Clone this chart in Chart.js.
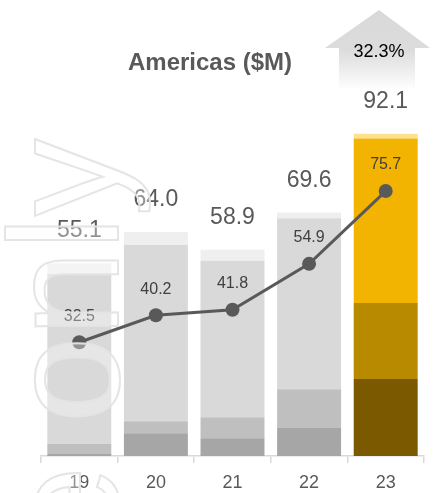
<!DOCTYPE html>
<html>
<head>
<meta charset="utf-8">
<script src="https://cdn.jsdelivr.net/npm/chart.js@4/dist/chart.umd.min.js"></script>
<style>
  html, body { margin: 0; padding: 0; background: #fff; }
  canvas { display: block; }
</style>
</head>
<body>
<canvas id="americas" width="434" height="493"></canvas>
<script>
let years = ["19", "20", "21", "22", "23"];
// revenue split, bottom to top of each stack
let baseVals = [0.6, 6.5, 5.1, 8.0, 22.0];
let midVals = [2.9, 3.4, 6.0, 11.1, 21.7];
let mainVals = [48.6, 50.4, 44.7, 48.8, 47.0];
let capVals = [3.0, 3.7, 3.1, 1.7, 1.4];
let trendVals = [32.5, 40.2, 41.8, 54.9, 75.7];
let growthText = "32.3%";

let grayColors = ["#a6a6a6", "#bfbfbf", "#d9d9d9", "#efefef"];
let goldColors = ["#7a5900", "#b88a00", "#f2b400", "#ffe08f"];
let FONT = "'Liberation Sans', Arial, sans-serif";

function segColors(level) {
  return years.map((y, i) => (i === years.length - 1 ? goldColors[level] : grayColors[level]));
}

function barSet(vals, level) {
  return {
    type: "bar",
    data: vals,
    backgroundColor: segColors(level),
    borderWidth: 0,
    stack: "rev",
    order: 1,
    barPercentage: 0.835,
    categoryPercentage: 1,
  };
}

const extras = {
  id: "extras",
  beforeDraw(chart) {
    const ctx = chart.ctx;
    ctx.save();
    ctx.fillStyle = "#fff";
    ctx.fillRect(0, 0, chart.width, chart.height);

    // title
    ctx.fillStyle = "#595959";
    ctx.font = "bold 24px " + FONT;
    ctx.textAlign = "center";
    ctx.textBaseline = "middle";
    ctx.fillText("Americas ($M)", 210, 63);

    // growth arrow
    const g = ctx.createLinearGradient(0, 10, 0, 90);
    g.addColorStop(0, "#d9d9d9");
    g.addColorStop(0.5, "#dcdcdc");
    g.addColorStop(1, "#ffffff");
    ctx.fillStyle = g;
    ctx.beginPath();
    ctx.moveTo(379, 10);
    ctx.lineTo(430, 48);
    ctx.lineTo(415, 48);
    ctx.lineTo(415, 90);
    ctx.lineTo(339, 90);
    ctx.lineTo(339, 48);
    ctx.lineTo(325, 48);
    ctx.closePath();
    ctx.fill();
    ctx.fillStyle = "#000";
    ctx.font = "18px " + FONT;
    ctx.fillText(growthText, 379, 52);
    ctx.restore();
  },
  afterDatasetsDraw(chart) {
    const ctx = chart.ctx;
    const topMeta = chart.getDatasetMeta(3);
    const lineMeta = chart.getDatasetMeta(4);
    ctx.save();
    ctx.textAlign = "center";
    ctx.textBaseline = "middle";
    years.forEach((y, i) => {
      const total = baseVals[i] + midVals[i] + mainVals[i] + capVals[i];
      const bar = topMeta.data[i];
      ctx.fillStyle = "#595959";
      ctx.font = "23px " + FONT;
      ctx.fillText(total.toFixed(1), bar.x, bar.y - 32);

      const pt = lineMeta.data[i];
      ctx.fillStyle = "#404040";
      ctx.font = "16px " + FONT;
      ctx.fillText(trendVals[i].toFixed(1), pt.x, pt.y - 26);
    });
    ctx.restore();
  },
  afterDraw(chart) {
    // outlined watermark running up the left side
    const ctx = chart.ctx;
    ctx.save();
    ctx.translate(118, 423);
    ctx.rotate(-Math.PI / 2);
    ctx.font = "155px " + FONT;
    ctx.textAlign = "left";
    ctx.textBaseline = "alphabetic";
    const text = "Internal use only";
    const shift = ctx.measureText("Internal use ").width;
    ctx.fillStyle = "rgba(255,255,255,0.35)";
    ctx.fillText(text, -shift, 0);
    ctx.lineWidth = 2;
    ctx.strokeStyle = "rgba(228,228,228,0.95)";
    ctx.strokeText(text, -shift, 0);
    ctx.restore();
  },
};

new Chart("americas", {
  data: {
    labels: years,
    datasets: [
      barSet(baseVals, 0),
      barSet(midVals, 1),
      barSet(mainVals, 2),
      barSet(capVals, 3),
      {
        type: "line",
        data: trendVals,
        yAxisID: "yLine",
        borderColor: "#595959",
        borderWidth: 3,
        pointRadius: 7,
        pointBackgroundColor: "#595959",
        pointBorderWidth: 0,
        tension: 0,
        order: 0,
      },
    ],
  },
  options: {
    responsive: false,
    animation: false,
    devicePixelRatio: 1,
    layout: { padding: { left: 41, right: 10, top: 106, bottom: 0 } },
    plugins: {
      legend: { display: false },
      title: { display: false },
      tooltip: { enabled: false },
    },
    scales: {
      x: {
        stacked: true,
        afterFit(scale) {
          scale.height = 37;
        },
        grid: {
          offset: true,
          drawOnChartArea: false,
          tickLength: 7,
          color: "#d9d9d9",
          lineWidth: 1.5,
        },
        border: { color: "#d9d9d9", width: 1.5 },
        ticks: { color: "#595959", padding: 9, font: { family: FONT, size: 18 } },
      },
      y: { stacked: true, display: false, min: 0, max: 100 },
      yLine: { display: false, min: 0, max: 100 },
    },
  },
  plugins: [extras],
});
</script>
</body>
</html>
